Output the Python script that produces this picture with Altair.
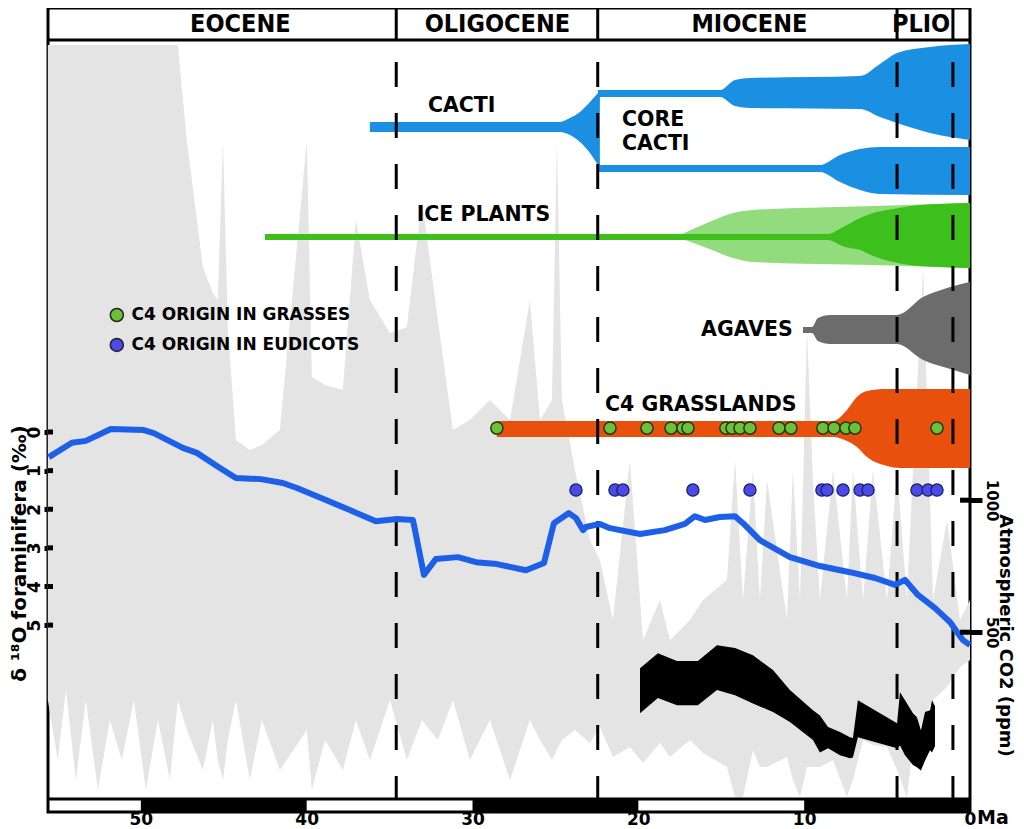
import altair as alt
import pandas as pd

W, H = 922, 804
SANS = "DejaVu Sans"
NARROW = "Liberation Sans Narrow, DejaVu Sans Condensed, Arial Narrow, sans-serif"

# ---------------- data (ages in Ma) ----------------
age_domain = [55.6, 0.0]
u_domain = [-1.64, 100.0]          # relative height of the panel (0 = bottom frame, 100 = top)
d18o_domain = [-10.98, 9.84]
co2_domain = [194.6, 13245.0]

epoch_names = ["EOCENE", "OLIGOCENE", "MIOCENE", "PLIO"]
epoch_mid = [44.0, 28.5, 13.3, 2.95]
boundary_age = [34.6, 22.45, 4.4, 1.03]

scale_from = [50, 30, 10]
scale_to = [40, 20, 0]

d18o_ticks = [0, 1, 2, 3, 4, 5]
co2_ticks = [500, 1000]

d18o_age = [55.55, 54.16, 53.32, 51.81, 49.82, 49.22, 47.47, 46.62, 45.30, 44.27, 42.76, 41.44,
            40.59, 38.84, 37.58, 35.83, 34.56, 33.59, 32.93, 32.21, 30.88, 29.79, 28.53, 26.78,
            25.69, 25.09, 24.19, 23.76, 23.34, 23.16, 22.32, 21.71, 19.90, 18.40, 17.19, 16.59,
            15.98, 15.08, 14.17, 13.57, 12.67, 10.86, 9.05, 7.24, 5.73, 4.52, 3.92, 3.14, 2.11,
            1.21, 0.78, 0.42, 0.0]
d18o_val = [0.65, 0.28, 0.23, -0.08, -0.05, 0.03, 0.41, 0.54, 0.91, 1.19, 1.22, 1.32,
            1.45, 1.76, 1.99, 2.31, 2.25, 2.28, 3.70, 3.29, 3.24, 3.37, 3.42, 3.58,
            3.39, 2.36, 2.10, 2.23, 2.54, 2.46, 2.38, 2.49, 2.64, 2.54, 2.38, 2.18,
            2.28, 2.20, 2.18, 2.41, 2.80, 3.24, 3.47, 3.63, 3.78, 3.96, 3.83, 4.22, 4.56,
            4.92, 5.18, 5.39, 5.52]

co2_age = [19.90, 18.82, 17.67, 16.41, 15.26, 14.17, 13.09, 11.88, 10.86, 9.47, 9.05, 8.56,
           7.84, 7.24, 7.06, 6.76, 4.40, 4.22, 3.92, 3.44, 3.20, 2.96, 2.71, 2.41, 2.29, 2.11]
co2_high = [414, 448, 430, 430, 467, 460, 443, 410, 369, 332, 323, 304,
            296, 288, 287, 350, 310, 365, 350, 327, 320, 299, 329, 332, 350, 339]
co2_low = [327, 354, 341, 341, 369, 359, 344, 329, 312, 284, 266, 272,
           262, 258, 259, 288, 272, 276, 262, 249, 246, 242, 255, 269, 266, 275]

band_age = [55.61, 55.01, 54.52, 53.92, 53.32, 52.59, 51.87, 51.15, 50.42, 49.70, 48.97, 48.25,
            47.77, 47.23, 46.26, 45.66, 45.36, 45.05, 44.75, 44.27, 43.43, 42.70, 41.62, 39.99,
            39.69, 38.90, 37.82, 37.03, 36.19, 34.98, 33.96, 33.05, 32.09, 31.18, 30.16, 28.95,
            27.74, 26.54, 25.93, 25.21, 24.91, 24.61, 23.82, 22.92, 22.32, 21.53,
            20.51, 19.72, 18.70, 18.09, 16.89, 16.10, 14.66, 14.17, 13.69, 13.09, 12.67, 12.24,
            11.04, 10.68, 10.25, 9.83, 9.47, 9.05, 8.26, 7.42, 7.06, 6.45, 5.85, 5.01, 4.40,
            3.80, 3.44, 2.83, 2.23, 1.39, 0.60, 0.0]
band_top = [95.32, 95.32, 95.32, 95.32, 95.32, 95.32, 95.32, 95.32, 95.32, 95.32, 95.32, 95.32,
            95.32, 83.31, 67.26, 63.97, 63.09, 83.31, 59.29, 45.39, 44.12, 44.75, 46.65, 83.31,
            53.35, 52.34, 51.71, 73.20, 63.09, 58.91, 59.67, 75.73, 60.56, 46.65, 47.91, 50.44,
            47.91, 63.09, 47.91, 50.44, 83.31, 50.44, 41.59, 32.74, 30.22, 22.63,
            42.86, 20.10, 25.16, 20.10, 22.63, 25.16, 27.69, 42.86, 25.16, 41.59, 25.16, 40.33,
            22.63, 41.59, 25.16, 59.29, 40.33, 25.16, 41.59, 25.16, 41.59, 25.16, 41.59, 25.16,
            41.59, 25.16, 41.59, 67.26, 25.16, 35.27, 22.63, 25.16]
band_bot = [12.52, 4.93, 13.78, 2.40, 12.52, 1.14, 9.99, 4.93, 12.52, 1.14, 9.99, 2.40,
            12.52, 8.72, 3.67, 9.99, 4.93, 2.40, 7.46, 12.52, 2.40, 9.99, 3.67, 8.72,
            1.14, 7.46, 3.67, 9.99, 4.93, 12.52, 4.93, 9.99, 7.46, 12.52, 4.93, 9.99,
            2.40, 9.99, 7.46, 4.93, 6.19, 7.46, 8.72, 7.08, 9.10, 5.31,
            6.57, 4.55, 7.08, 5.31, 7.46, 5.82, 4.05, 0.25, 0.25, 6.19, 4.05, 4.05,
            5.31, 2.40, 0.25, 4.05, 4.05, 4.05, 4.93, 0.25, 2.40, 7.46, 6.83, 6.57,
            3.67, 0.25, 6.57, 9.99, 12.52, 14.16, 16.69, 17.57]

cacti_age = [36.19, 24.73, 24.13, 23.52, 22.92, 22.32]
cacti_hi = [85.59, 85.59, 86.09, 86.85, 88.12, 89.51]
cacti_lo = [84.32, 84.32, 83.94, 83.06, 81.67, 79.77]

core1_age = [22.44, 15.08, 14.17, 13.27, 6.63, 5.43, 4.40, 2.41, 0.0]
core1_hi = [89.63, 89.63, 90.90, 91.15, 91.40, 92.92, 94.31, 95.07, 95.45]
core1_lo = [88.75, 88.75, 87.61, 87.36, 87.23, 86.22, 85.46, 84.20, 83.31]

core2_age = [22.44, 9.05, 7.84, 6.63, 5.43, 0.0]
core2_hi = [80.15, 80.15, 81.42, 82.17, 82.43, 82.43]
core2_lo = [79.27, 79.27, 78.00, 76.99, 76.49, 76.36]

ice_light_age = [17.49, 15.86, 14.29, 13.09, 5.85, 0.0]
ice_light_hi = [71.30, 72.82, 74.08, 74.46, 74.97, 75.35]
ice_light_lo = [70.92, 69.66, 68.39, 67.89, 67.51, 67.13]

ice_age = [42.52, 8.62, 7.54, 6.63, 5.85, 4.64, 3.02, 0.0]
ice_hi = [71.43, 71.43, 72.44, 73.45, 74.08, 74.59, 75.09, 75.35]
ice_lo = [70.67, 70.67, 69.79, 69.41, 68.65, 67.89, 67.38, 67.13]

agave_age = [10.07, 9.53, 9.17, 8.44, 4.40, 2.83, 1.39, 0.0]
agave_hi = [59.67, 59.67, 60.81, 61.19, 61.19, 63.46, 64.60, 65.36]
agave_lo = [58.91, 58.91, 57.90, 57.52, 57.52, 55.50, 54.49, 53.60]

grass_land_age = [28.53, 8.26, 7.42, 6.82, 6.21, 5.01, 4.22, 0.0]
grass_land_hi = [47.79, 47.79, 49.18, 50.82, 51.58, 51.83, 51.83, 51.83]
grass_land_lo = [45.77, 45.77, 45.26, 44.50, 43.24, 42.10, 41.85, 41.85]

grass_origin_age = [28.53, 21.71, 19.48, 18.03, 17.31, 17.01, 14.72, 14.35, 13.87, 13.27,
                    11.52, 10.80, 8.87, 8.20, 7.48, 6.94, 1.99]
eudicot_origin_age = [23.76, 21.41, 20.93, 16.71, 13.27, 8.93, 8.62, 7.66, 6.63, 6.15,
                      3.20, 2.53, 1.99]

label_text = ["CACTI", "CORE", "CACTI", "ICE PLANTS", "C4 GRASSLANDS"]
label_age = [32.69, 20.99, 20.99, 33.37, 22.01]
label_u = [87.55, 85.84, 82.87, 73.77, 49.81]

legend_text = ["C4 ORIGIN IN GRASSES", "C4 ORIGIN IN EUDICOTS"]

# layout rows in panel units
U_GRASS_ROW, U_EUDICOT_ROW = 46.9, 39.06
U_EPOCH_LINE, U_EPOCH_TEXT = 95.95, 97.98
U_LEGEND = [61.19, 57.40]
AGE_LEGEND_DOT, AGE_LEGEND_TEXT = 51.45, 50.56
U_BAR = [-0.13, -1.64]
U_MA = -3.16
LEFT_TICK_AGE = [55.6, 55.3]
RIGHT_TICK_AGE = [0.6, 0.0]

# ---------------- scales / axes ----------------
xs = alt.Scale(domain=age_domain, nice=False, zero=False)
us = alt.Scale(domain=u_domain, nice=False, zero=False)
ds = alt.Scale(domain=d18o_domain, reverse=True, nice=False, zero=False)
cs = alt.Scale(type="log", domain=co2_domain, nice=False)
xaxis = alt.Axis(values=[50, 40, 30, 20, 10, 0], title=None, ticks=False, domain=False, grid=False,
                 labelFont=SANS, labelFontSize=17, labelFontWeight="bold", labelColor="black",
                 labelPadding=12, labelBaseline="alphabetic", labelFlush=False, labelOverlap=False,
                 format="d")


def X(field="age"):
    return alt.X(f"{field}:Q", scale=xs, axis=xaxis)


def U(field):
    return alt.Y(f"{field}:Q", scale=us, axis=None)


def band(age, hi, lo, color, interp="monotone"):
    df = pd.DataFrame({"age": age, "hi": hi, "lo": lo})
    return alt.Chart(df).mark_area(color=color, interpolate=interp, opacity=1).encode(
        x=X(), y=U("hi"), y2="lo:Q")


grey = band(band_age, band_top, band_bot, "#e4e4e4", "linear")
cacti = band(cacti_age, cacti_hi, cacti_lo, "#1b8fe2")
core1 = band(core1_age, core1_hi, core1_lo, "#1b8fe2")
core2 = band(core2_age, core2_hi, core2_lo, "#1b8fe2")
ice_l = band(ice_light_age, ice_light_hi, ice_light_lo, "#92dc7e")
ice = band(ice_age, ice_hi, ice_lo, "#3ec01c")
agave = band(agave_age, agave_hi, agave_lo, "#6c6c6c")
grassl = band(grass_land_age, grass_land_hi, grass_land_lo, "#e8510d")

bdf = pd.DataFrame({"age": boundary_age, "top": U_EPOCH_LINE, "bottom": 0.0})
dashed = alt.Chart(bdf).mark_rule(color="black", strokeWidth=3, strokeDash=[25, 26],
                                  strokeDashOffset=29).encode(x=X(), y=U("top"), y2="bottom:Q")
edf = pd.DataFrame({"age": boundary_age, "top": 100.0, "bottom": U_EPOCH_LINE})
dividers = alt.Chart(edf).mark_rule(color="black", strokeWidth=3).encode(
    x=X(), y=U("top"), y2="bottom:Q")
hdf = pd.DataFrame({"u": [U_EPOCH_LINE, 0.0]})
hlines = alt.Chart(hdf).mark_rule(color="black", strokeWidth=3).encode(y=U("u"))
sdf = pd.DataFrame({"age": scale_from, "age2": scale_to, "top": U_BAR[0], "bottom": U_BAR[1]})
scalebar = alt.Chart(sdf).mark_rect(color="black").encode(
    x=X(), x2="age2:Q", y=U("top"), y2="bottom:Q")

gdf = pd.DataFrame({"age": grass_origin_age, "u": U_GRASS_ROW})
gdots = alt.Chart(gdf).mark_circle(size=150, color="#6cc13b", stroke="#26380f", strokeWidth=1.5,
                                   opacity=1).encode(x=X(), y=U("u"))
edf2 = pd.DataFrame({"age": eudicot_origin_age, "u": U_EUDICOT_ROW})
edots = alt.Chart(edf2).mark_circle(size=150, color="#4a4ae8", stroke="#1a1a60", strokeWidth=1.2,
                                    opacity=1).encode(x=X(), y=U("u"))

ldf = pd.DataFrame({"age": [AGE_LEGEND_DOT] * 2, "u": U_LEGEND, "c": ["#6cc13b", "#4a4ae8"]})
ldots = alt.Chart(ldf).mark_circle(size=170, stroke="#222222", strokeWidth=1.5, opacity=1).encode(
    x=X(), y=U("u"), color=alt.Color("c:N", scale=None))
ltdf = pd.DataFrame({"age": [AGE_LEGEND_TEXT] * 2, "u": U_LEGEND, "t": legend_text})
ltext = alt.Chart(ltdf).mark_text(font=SANS, fontWeight="bold", fontSize=17, align="left",
                                  baseline="middle", color="black").encode(x=X(), y=U("u"), text="t:N")

lbdf = pd.DataFrame({"age": label_age, "u": label_u, "t": label_text})
labels = alt.Chart(lbdf).mark_text(font=SANS, fontWeight="bold", fontSize=20.5, align="left",
                                   baseline="middle", color="black").encode(x=X(), y=U("u"), text="t:N")
agdf = pd.DataFrame({"age": [10.68], "u": [59.35], "t": ["AGAVES"]})
aglabel = alt.Chart(agdf).mark_text(font=SANS, fontWeight="bold", fontSize=20.5, align="right",
                                    baseline="middle", color="black").encode(x=X(), y=U("u"), text="t:N")

epdf = pd.DataFrame({"age": epoch_mid, "u": U_EPOCH_TEXT, "t": epoch_names})
eplabels = alt.Chart(epdf).mark_text(font=NARROW, fontWeight="bold", fontSize=25, align="center",
                                     baseline="middle", color="black").encode(x=X(), y=U("u"), text="t:N")
madf = pd.DataFrame({"age": [0.0], "u": [U_MA], "t": ["Ma"]})
malabel = alt.Chart(madf).mark_text(font=SANS, fontWeight="bold", fontSize=19, align="left",
                                    baseline="alphabetic", dx=7, color="black").encode(
    x=X(), y=U("u"), text="t:N")

inner = alt.layer(grey, cacti, core1, core2, ice_l, ice, agave, grassl, dashed, dividers, hlines,
                  scalebar, gdots, edots, ldots, ltext, labels, aglabel, eplabels, malabel)

# ---------------- delta 18O curve (left axis) ----------------
left_axis = alt.Axis(orient="left", values=d18o_ticks, format="d", title="δ ¹⁸O foraminifera (‰)",
                     domain=False, grid=False, tickSize=4, tickWidth=5, tickColor="black",
                     labelAngle=270, labelAlign="center", labelBaseline="bottom", labelPadding=1,
                     labelFont=SANS, labelFontSize=17, labelFontWeight="bold", labelColor="black",
                     titleAngle=270, titleX=-23, titleY=545, titleAlign="center", titleBaseline="alphabetic",
                     titleFont=SANS, titleFontSize=20, titleFontWeight="bold", titleColor="black")
ddf = pd.DataFrame({"age": d18o_age, "d": d18o_val})
d18_line = alt.Chart(ddf).mark_line(color="#1e5fe8", strokeWidth=6, strokeJoin="round").encode(
    x=X(), y=alt.Y("d:Q", scale=ds, axis=left_axis))
ltick_df = pd.DataFrame({"d": d18o_ticks, "a0": LEFT_TICK_AGE[0], "a1": LEFT_TICK_AGE[1]})
d18_ticks = alt.Chart(ltick_df).mark_rule(color="black", strokeWidth=5).encode(
    x=X("a0"), x2="a1:Q", y=alt.Y("d:Q", scale=ds, axis=left_axis))
d18 = alt.layer(d18_line, d18_ticks)

# ---------------- CO2 band (right axis) ----------------
right_axis = alt.Axis(orient="right", values=co2_ticks, format="d", title="Atmospheric CO2 (ppm)",
                      domain=False, grid=False, tickSize=12, tickWidth=5, tickColor="black",
                      labelAngle=90, labelAlign="center", labelBaseline="bottom", labelPadding=1,
                      labelFont=SANS, labelFontSize=15, labelFontWeight="bold", labelColor="black",
                      titleAngle=90, titleX=29, titleY=627, titleAlign="center", titleBaseline="alphabetic",
                      titleFont=SANS, titleFontSize=18, titleFontWeight="bold", titleColor="black")
cdf = pd.DataFrame({"age": co2_age, "hi": co2_high, "lo": co2_low})
co2_band = alt.Chart(cdf).mark_area(color="black", interpolate="linear", opacity=1).encode(
    x=X(), y=alt.Y("hi:Q", scale=cs, axis=right_axis), y2="lo:Q")
rtick_df = pd.DataFrame({"v": co2_ticks, "a0": RIGHT_TICK_AGE[0], "a1": RIGHT_TICK_AGE[1]})
co2_tick = alt.Chart(rtick_df).mark_rule(color="black", strokeWidth=5).encode(
    x=X("a0"), x2="a1:Q", y=alt.Y("v:Q", scale=cs, axis=right_axis))
co2 = alt.layer(co2_band, co2_tick)

chart = alt.layer(inner, d18, co2).resolve_scale(y="independent").properties(
    width=W, height=H,
    padding={"left": 40, "top": 0, "right": 46, "bottom": 17},
    autosize=alt.AutoSizeParams(type="none"),
    background="white",
).configure_view(stroke="black", strokeWidth=3)

chart.save("out.html", embed_options={"renderer": "svg", "actions": False})
